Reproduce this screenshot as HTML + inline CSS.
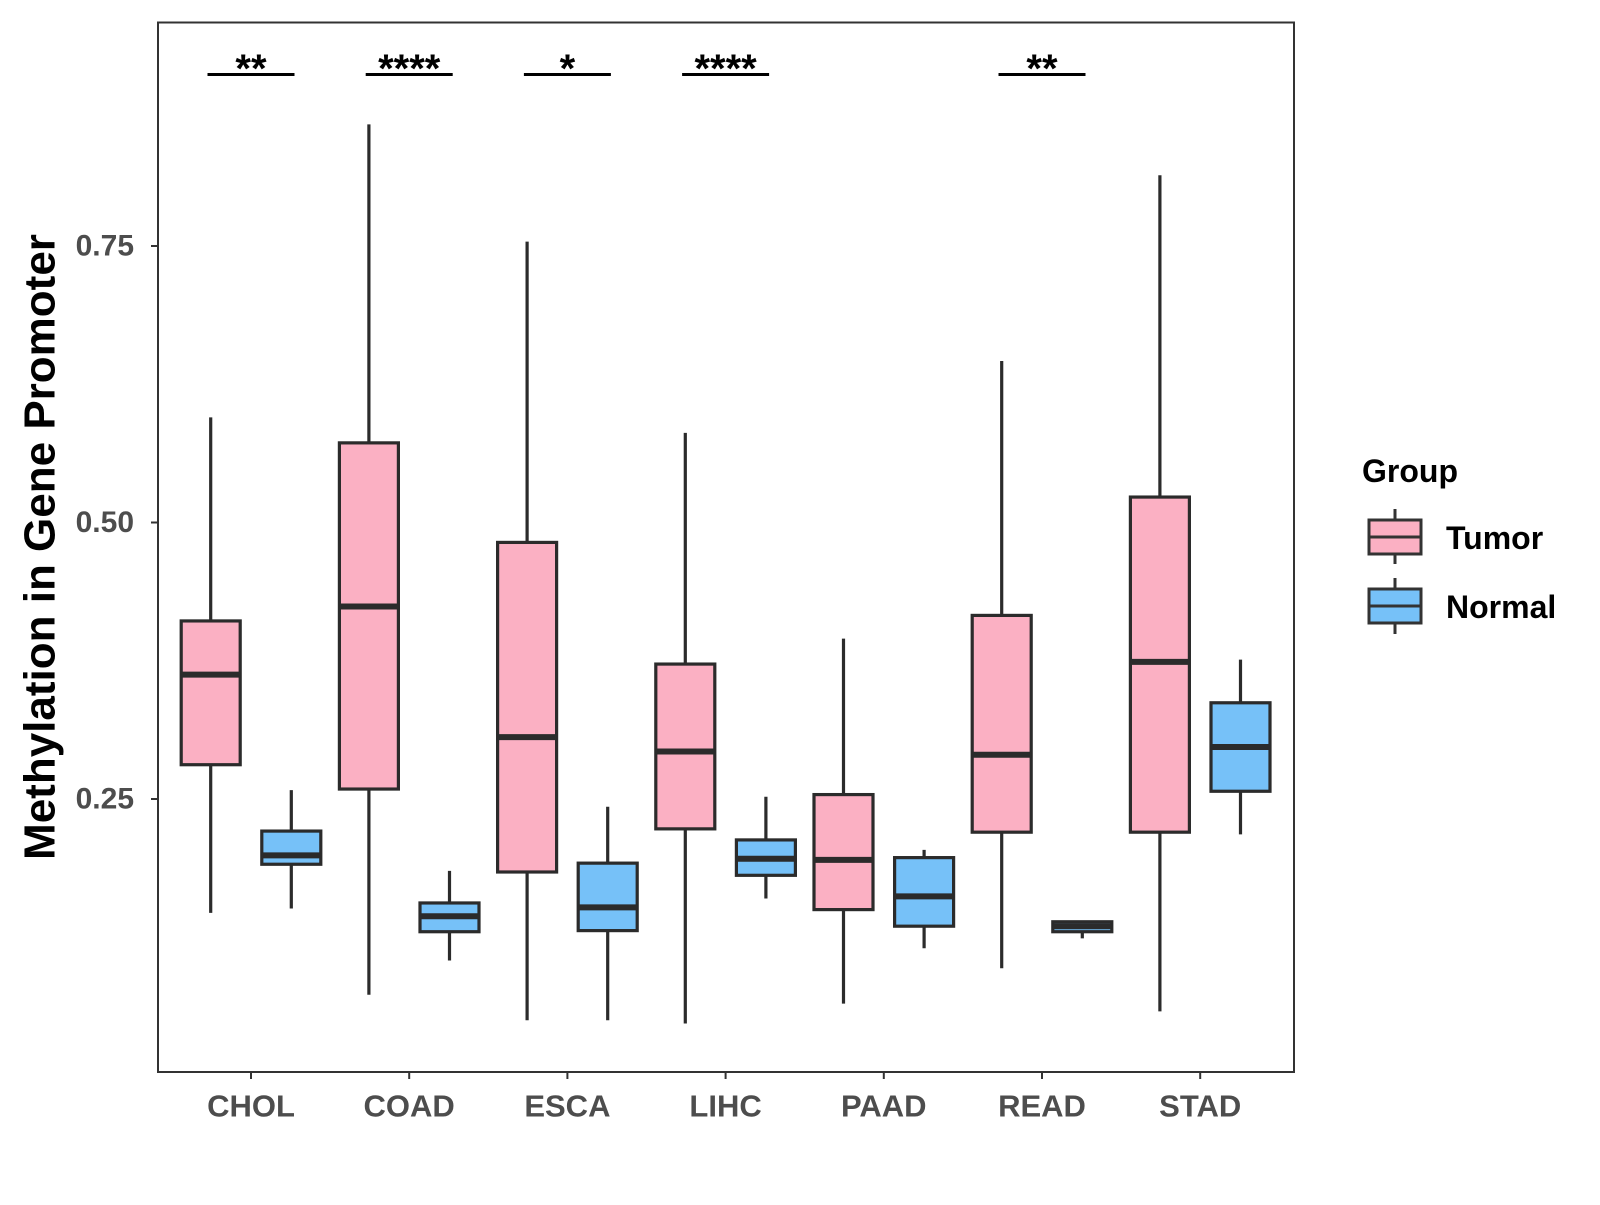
<!DOCTYPE html>
<html><head><meta charset="utf-8"><style>
html,body{margin:0;padding:0;background:#fff;}
svg text{font-family:"Liberation Sans",Arial,sans-serif;font-weight:bold;}
</style></head><body>
<svg id="chart" width="1600" height="1200" xmlns="http://www.w3.org/2000/svg">
<rect x="0" y="0" width="1600" height="1200" fill="#fff"/>
<g id="marks"></g>
<rect x="158" y="22.5" width="1136" height="1049.5" fill="none" stroke="#333" stroke-width="2"/>
<text x="40" y="547" transform="rotate(-90 40 547)" text-anchor="middle" dominant-baseline="central" font-size="44" fill="#000">Methylation in Gene Promoter</text>
<g>
<text x="1362" y="482" font-size="32" fill="#000">Group</text>
<g>
<line x1="1395" y1="509" x2="1395" y2="564" stroke="#333" stroke-width="3"/>
<rect x="1369" y="520" width="52" height="34" fill="#FBB0C3" stroke="#333" stroke-width="3"/>
<line x1="1369" y1="537" x2="1421" y2="537" stroke="#333" stroke-width="3"/>
<text x="1446" y="549" font-size="32" fill="#000">Tumor</text>
</g>
<g>
<line x1="1395" y1="578" x2="1395" y2="634" stroke="#333" stroke-width="3"/>
<rect x="1369" y="589" width="52" height="34" fill="#76C1F8" stroke="#333" stroke-width="3"/>
<line x1="1369" y1="606" x2="1421" y2="606" stroke="#333" stroke-width="3"/>
<text x="1446" y="618" font-size="32" fill="#000">Normal</text>
</g>
</g>
</svg>
<script>
const categories = ["CHOL","COAD","ESCA","LIHC","PAAD","READ","STAD"];
// [low, q1, median, q3, high]
const tumorStats = [
 [0.147,0.281,0.3625,0.411,0.595],
 [0.073,0.259,0.424,0.572,0.860],
 [0.050,0.184,0.306,0.482,0.754],
 [0.047,0.223,0.293,0.372,0.581],
 [0.065,0.150,0.195,0.254,0.395],
 [0.097,0.220,0.290,0.416,0.646],
 [0.058,0.220,0.374,0.523,0.814]
];
const normalStats = [
 [0.151,0.191,0.199,0.221,0.258],
 [0.104,0.130,0.144,0.156,0.185],
 [0.050,0.131,0.152,0.192,0.243],
 [0.160,0.181,0.196,0.213,0.252],
 [0.115,0.135,0.162,0.197,0.204],
 [0.124,0.130,0.135,0.139,0.139],
 [0.218,0.257,0.297,0.337,0.376]
];
const significance = ["**","****","*","****","","**",""];
const yTicks = [0.25,0.50,0.75];
const yTickLabels = ["0.25","0.50","0.75"];

const NS="http://www.w3.org/2000/svg";
const g=document.getElementById('marks');
function yScale(v){return 799-(v-0.25)*1106;}
function xScale(i){return 251+i*158.2;}
function mk(tag,attrs,parent){const e=document.createElementNS(NS,tag);for(const k in attrs)e.setAttribute(k,attrs[k]);(parent||g).appendChild(e);return e;}

yTicks.forEach((t,i)=>{
 const y=yScale(t);
 const tk=mk('line',{x1:151,x2:158,y1:y,y2:y,stroke:'#333','stroke-width':2});
 
 
 const lb=mk('text',{x:134,y:y,'text-anchor':'end','dominant-baseline':'central','font-size':30,fill:'#4d4d4d'});
 lb.textContent=yTickLabels[i];
 
 
});

function drawBox(cx,s,fill,name){
 const bg=mk('g',{});
 
 
 const w=59;
 mk('line',{x1:cx,x2:cx,y1:yScale(s[4]),y2:yScale(s[0]),stroke:'#2b2b2b','stroke-width':3.2},bg);
 mk('rect',{x:cx-w/2,y:yScale(s[3]),width:w,height:Math.max(yScale(s[1])-yScale(s[3]),1),fill:fill,stroke:'#2b2b2b','stroke-width':3.2},bg);
 mk('line',{x1:cx-w/2,x2:cx+w/2,y1:yScale(s[2]),y2:yScale(s[2]),stroke:'#2b2b2b','stroke-width':6},bg);
}

categories.forEach((c,i)=>{
 const cx=xScale(i);
 drawBox(cx-40.3,tumorStats[i],'#FBB0C3','box-tumor-'+c.toLowerCase());
 drawBox(cx+40.3,normalStats[i],'#76C1F8','box-normal-'+c.toLowerCase());
 const tk=mk('line',{x1:cx,x2:cx,y1:1072,y2:1079,stroke:'#333','stroke-width':2});
 
 
 const lb=mk('text',{x:cx,y:1106,'text-anchor':'middle','dominant-baseline':'central','font-size':31,fill:'#4d4d4d'});
 lb.textContent=c;
 
 
 if(significance[i]){
  const sl=mk('line',{x1:cx-43.5,x2:cx+43.5,y1:74.5,y2:74.5,stroke:'#000','stroke-width':3});
  
  
  const st=mk('text',{x:cx,y:82,'text-anchor':'middle','font-size':40,fill:'#000'});
  st.textContent=significance[i];
  
  
 }
});
</script>
</body></html>
